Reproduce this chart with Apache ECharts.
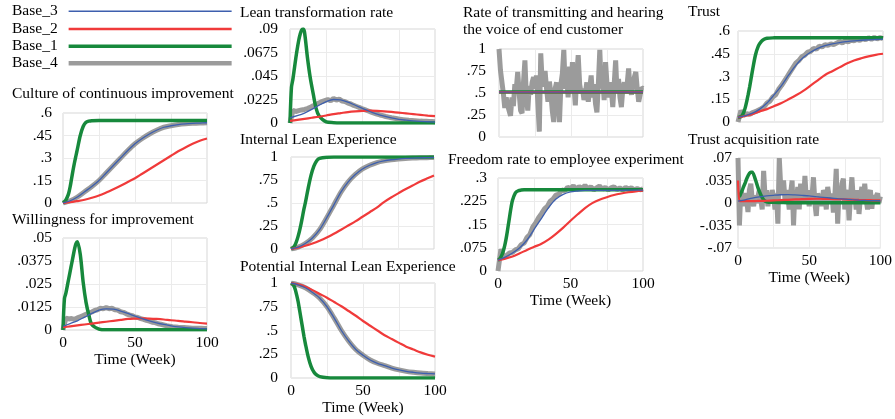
<!DOCTYPE html>
<html>
<head>
<meta charset="utf-8">
<title>Lean simulation runs</title>
<script src="https://cdn.jsdelivr.net/npm/echarts@6/dist/echarts.min.js"></script>
<style>
html, body { margin: 0; padding: 0; background: #fff; }
#main { width: 895px; height: 419px; }
</style>
</head>
<body>
<div id="main"></div>
<script>
// time grids (weeks)
var weeks5 = [0, 5, 10, 15, 20, 25, 30, 35, 40, 45, 50, 55, 60, 65, 70, 75, 80, 85, 90, 95, 100];
var weeksFine = [0, 1, 2, 3, 4, 5, 6, 7, 8, 9, 10, 12, 14, 16, 18, 20, 25, 30, 35, 40, 45, 50, 55, 60, 65, 70, 75, 80, 85, 90, 95, 100];
var weeksEnds = [0, 100];
var weeks2 = [];
for (var i = 0; i <= 100; i += 2) weeks2.push(i);
var weeks1 = [];
for (var j = 0; j <= 100; j++) weeks1.push(j);

// Culture of continuous improvement
var cultureB1 = [0, .008, .02, .04, .067, .11, .165, .22, .27, .315, .36, .45, .51, .538, .546, .549, .55, .55, .55, .55, .55, .55, .55, .55, .55, .55, .55, .55, .55, .55, .55, .55];
var cultureB2 = [0, .005, .013, .022, .035, .05, .07, .092, .115, .14, .165, .195, .225, .255, .285, .315, .345, .37, .395, .415, .43];
var cultureB3 = [0, .015, .04, .075, .11, .15, .2, .25, .3, .35, .395, .43, .46, .485, .505, .515, .523, .528, .531, .533, .535];

// Willingness for improvement
var willB1 = [0, .017, .02, .024, .028, .032, .036, .04, .044, .047, .048, .041, .026, .015, .008, .003, .0005, .0001, .0001, .0001, .0001, .0001, .0001, .0001, .0001, .0001, .0001, .0001, .0001, .0001, .0001, .0001];
var willB2 = [.0015, .002, .0025, .003, .0035, .004, .0045, .005, .0055, .006, .0062, .0063, .0062, .006, .0057, .0053, .005, .0046, .0042, .0038, .0035];
var willB3 = [.002, .0035, .005, .007, .009, .0108, .0115, .0113, .0103, .009, .0075, .0062, .005, .0039, .003, .0023, .0017, .0013, .001, .0008, .0006];
var willB4 = [0, .0065, .006, .0062, .0058, .0066, .0072, .0078, .0085, .0092, .0098, .0106, .011, .0118, .0115, .0122, .0116, .0118, .011, .0108, .0099, .0096, .0088, .0082, .0078, .0071, .0068, .0062, .0058, .0052, .0048, .0042, .004, .0034, .0031, .0027, .0023, .0021, .0018, .0017, .0015, .0014, .0013, .0012, .0011, .001, .001, .0009, .0009, .0008, .0008];

// Lean transformation rate
var ltrB1 = [0, .034, .042, .052, .062, .071, .079, .085, .089, .09, .087, .063, .043, .028, .014, .007, .001, .0003, .0001, .0001, .0001, .0001, .0001, .0001, .0001, .0001, .0001, .0001, .0001, .0001, .0001, .0001];
var ltrB2 = [.002, .003, .004, .005, .006, .0072, .0085, .0095, .0105, .0112, .0117, .0118, .0116, .0112, .0106, .0099, .0092, .0085, .0078, .0071, .0065];
var ltrB3 = [.005, .007, .0095, .013, .017, .0205, .0225, .0222, .02, .017, .014, .011, .0085, .0065, .0048, .0035, .0027, .002, .0015, .0012, .0009];
var ltrB4 = [0, .012, .011, .0118, .0125, .013, .0138, .015, .0165, .0175, .0192, .0205, .0215, .0225, .0212, .0235, .022, .0228, .021, .0205, .019, .0182, .0168, .0158, .0148, .0135, .0125, .0115, .0105, .0095, .0085, .0077, .007, .0062, .0056, .005, .0045, .004, .0035, .0032, .0029, .0026, .0024, .0022, .002, .0018, .0017, .0016, .0015, .0014, .0013];

// Internal Lean Experience
var ileB1 = [0, .01, .025, .05, .09, .14, .2, .27, .35, .43, .5, .66, .8, .9, .96, .985, .998, 1, 1, 1, 1, 1, 1, 1, 1, 1, 1, 1, 1, 1, 1, 1];
var ileB2 = [0, .015, .035, .06, .09, .125, .165, .21, .255, .3, .35, .4, .45, .51, .56, .605, .65, .69, .73, .765, .8];
var ileB3 = [0, .02, .06, .12, .21, .34, .48, .62, .73, .81, .87, .91, .94, .958, .97, .978, .984, .988, .991, .993, .995];

// Potential Internal Lean Experience
var pileB1 = [1, .99, .97, .93, .87, .8, .71, .62, .53, .44, .36, .22, .12, .06, .03, .015, .003, 0, 0, 0, 0, 0, 0, 0, 0, 0, 0, 0, 0, 0, 0, 0];
var pileB2 = [1, .985, .96, .925, .885, .845, .8, .755, .705, .655, .6, .55, .5, .45, .41, .37, .33, .3, .27, .245, .225];
var pileB3 = [1, .98, .95, .9, .84, .75, .63, .5, .39, .3, .24, .19, .155, .13, .105, .085, .07, .06, .052, .047, .043];

// Rate of transmitting and hearing the voice of end customer
var voiceFlat = [.51, .51];
var voiceB4 = [1.0, .76, .78, .5, .33, .45, .36, .3, .24, .45,
  .35, .6, .55, .74, .5, .3, .27, .62, .87, .45,
  .3, .58, .48, .62, .68, .55, .7, .72, .06, .95,
  .62, .58, .75, .55, .4, .63, .5, .3, .17, .55,
  .62, .4, .17, .6, .72, .99, .55, .68, .45, .8,
  .5, .85, .6, .36, .7, .93, .6, .5, .55, .42,
  .5, .62, .4, .55, .7, .45, .6, .38, .28, .6,
  .99, .55, .7, .42, .85, .6, .45, .62, .55, .34,
  .6, .87, .5, .66, .45, .34, .55, .62, .5, .6,
  .78, .55, .48, .6, .68, .74, .55, .4, .48, .56,
  .55];

// Freedom rate to employee experiment
var freeB1 = [.035, .038, .045, .055, .07, .09, .115, .145, .175, .205, .228, .252, .259, .261, .262, .262, .262, .262, .262, .262, .262, .262, .262, .262, .262, .262, .262, .262, .262, .262, .262, .262];
var freeB2 = [.035, .04, .047, .057, .068, .078, .088, .102, .12, .14, .162, .183, .203, .219, .23, .238, .245, .25, .254, .257, .259];
var freeB3 = [.035, .045, .058, .075, .1, .135, .17, .205, .232, .247, .255, .258, .26, .26, .26, .26, .26, .26, .261, .261, .261];
var freeB4 = [0, .07, .045, .05, .058, .06, .068, .072, .085, .09, .108, .118, .142, .155, .172, .185, .2, .208, .225, .232, .245, .248, .262, .258, .27, .266, .275, .264, .272, .266, .276, .265, .272, .262, .268, .274, .264, .27, .262, .268, .272, .263, .268, .262, .27, .264, .268, .262, .266, .262, .265];

// Trust
var trustB1 = [.03, .032, .036, .045, .065, .095, .135, .18, .23, .285, .34, .44, .5, .53, .545, .552, .555, .556, .556, .556, .556, .556, .556, .556, .556, .556, .556, .556, .556, .556, .556, .556];
var trustB2 = [.03, .04, .052, .07, .085, .105, .125, .15, .176, .205, .24, .275, .31, .335, .36, .385, .405, .42, .433, .443, .45];
var trustB3 = [.03, .042, .058, .085, .125, .18, .24, .31, .375, .425, .46, .485, .503, .515, .524, .53, .535, .539, .542, .544, .546];
var trustB4 = [0, .075, .045, .055, .05, .062, .068, .078, .088, .1, .125, .138, .165, .18, .215, .24, .27, .3, .33, .36, .39, .405, .43, .44, .46, .465, .485, .48, .5, .495, .51, .505, .515, .51, .52, .53, .522, .535, .528, .54, .535, .545, .538, .55, .542, .555, .545, .558, .548, .556, .55];

// Trust acquisition rate
var acqB1 = [.01, .01, .015, .02, .026, .031, .037, .042, .046, .048, .048, .038, .024, .013, .005, .002, .001, .0008, .0005, .0005, .0005, .0005, .0005, .0005, .0005, .0005, .0005, .0005, .0005, .0005, .0005, .0005];
var acqB2 = [.035, .003, .003, .003, .003, .003, .003, .003, .003, .003, .003, .003, .0032, .0033, .0034, .0035, .004, .0045, .005, .0055, .006, .0065, .0066, .0065, .0062, .006, .0056, .0052, .0048, .0045, .0042, .004];
var acqB3 = [.003, .005, .0075, .0095, .011, .012, .0128, .013, .0125, .0118, .011, .0098, .0088, .0078, .0068, .006, .0052, .0045, .004, .0037, .0035];
var acqB4 = [.07, -.035, .02, .01, -.005, .015, .008, -.014, .02, .03,
  .005, -.005, .012, 0, .01, .02, .005, -.01, .05, .01,
  .02, -.005, .015, .005, .02, .01, -.01, .015, -.032, .07,
  .025, .015, .035, .005, .02, .01, -.01, .015, .035, -.035,
  .02, .005, .025, -.01, .03, .01, 0, .042, .005, .015,
  -.005, .02, .01, .04, 0, -.02, .015, .005, .01, -.005,
  .02, .015, -.01, .025, .01, 0, .015, -.015, .01, .053,
  -.032, .02, .005, .03, .038, -.01, .015, .02, -.027, .01,
  .04, .005, .015, -.01, .02, -.017, .01, .025, 0, .03,
  .005, -.01, .015, .02, -.009, .012, .005, .01, .015, 0,
  .01];

var legendNames = ['Base_3', 'Base_2', 'Base_1', 'Base_4'];
var drawOrder = ['Base_4', 'Base_1', 'Base_2', 'Base_3'];
var styles = {
    Base_4: { color: '#9b9b9b', width: 5, icon: 4.5 },
    Base_1: { color: '#17893c', width: 3.5, icon: 3.5 },
    Base_2: { color: '#f03a3a', width: 2.2, icon: 2.5 },
    Base_3: { color: '#3d5fae', width: 1.3, icon: 1.5 }
};

var FONT = 'Liberation Serif';
var FS = 15.5;

// one small chart per panel
var panels = [
    { title: 'Culture of continuous improvement', titleAt: [12, 85], box: [63, 113, 144, 90], y: [0, 0.6, 0.15], gap: 11, time: false,
      lines: { Base_4: [weeks5, cultureB3], Base_1: [weeksFine, cultureB1], Base_2: [weeks5, cultureB2], Base_3: [weeks5, cultureB3] } },
    { title: 'Willingness for improvement', titleAt: [12, 211], box: [63, 238, 144, 92], y: [0, 0.05, 0.0125], gap: 11, time: true,
      lines: { Base_4: [weeks2, willB4], Base_1: [weeksFine, willB1], Base_2: [weeks5, willB2], Base_3: [weeks5, willB3] } },
    { title: 'Lean transformation rate', titleAt: [240, 4], box: [290, 29, 145, 94], y: [0, 0.09, 0.0225], gap: 12, time: false,
      lines: { Base_4: [weeks2, ltrB4], Base_1: [weeksFine, ltrB1], Base_2: [weeks5, ltrB2], Base_3: [weeks5, ltrB3] } },
    { title: 'Internal Lean Experience', titleAt: [240, 131], box: [291, 157, 143, 92], y: [0, 1, 0.25], gap: 13, time: false,
      lines: { Base_4: [weeks5, ileB3], Base_1: [weeksFine, ileB1], Base_2: [weeks5, ileB2], Base_3: [weeks5, ileB3] } },
    { title: 'Potential Internal Lean Experience', titleAt: [240, 258], box: [291, 283, 144, 95], y: [0, 1, 0.25], gap: 13, time: true,
      lines: { Base_4: [weeks5, pileB3], Base_1: [weeksFine, pileB1], Base_2: [weeks5, pileB2], Base_3: [weeks5, pileB3] } },
    { title: 'Rate of transmitting and hearing\nthe voice of end customer', titleAt: [463, 4], box: [499, 49, 144, 88], y: [0, 1, 0.25], gap: 13, time: false,
      lines: { Base_4: [weeks1, voiceB4], Base_1: [weeksEnds, voiceFlat], Base_2: [weeksEnds, voiceFlat], Base_3: [weeksEnds, voiceFlat] } },
    { title: 'Freedom rate to employee experiment', titleAt: [448, 151], box: [498, 178, 145, 93], y: [0, 0.3, 0.075], gap: 11, time: true,
      lines: { Base_4: [weeks2, freeB4], Base_1: [weeksFine, freeB1], Base_2: [weeks5, freeB2], Base_3: [weeks5, freeB3] } },
    { title: 'Trust', titleAt: [688, 3], box: [738, 31, 145, 91], y: [0, 0.6, 0.15], gap: 8, time: false,
      lines: { Base_4: [weeks2, trustB4], Base_1: [weeksFine, trustB1], Base_2: [weeks5, trustB2], Base_3: [weeks5, trustB3] } },
    { title: 'Trust acquisition rate', titleAt: [688, 131], box: [738, 158, 145, 90], y: [-0.07, 0.07, 0.035], gap: 6, time: true,
      lines: { Base_4: [weeks1, acqB4], Base_1: [weeksFine, acqB1], Base_2: [weeksFine, acqB2], Base_3: [weeks5, acqB3] } }
];

// ".45" style tick labels
function shortNum(v) {
    if (v === 0) return '0';
    return String(+v.toFixed(6)).replace(/^(-?)0\./, '$1.');
}

var textBase = { fontFamily: FONT, fontSize: FS, color: '#000', fontWeight: 'normal' };
var grids = [], xAxes = [], yAxes = [], titles = [], series = [];

panels.forEach(function (p, k) {
    grids.push({
        left: p.box[0], top: p.box[1], width: p.box[2], height: p.box[3],
        show: true, borderColor: '#d6d6d6', borderWidth: 1, backgroundColor: 'transparent'
    });
    xAxes.push({
        gridIndex: k, type: 'value', min: 0, max: 100, interval: 25,
        axisLine: { show: false }, axisTick: { show: false },
        splitLine: { show: true, lineStyle: { color: '#ebebeb', width: 1 } },
        axisLabel: {
            show: p.time, margin: 5, fontFamily: FONT, fontSize: FS, color: '#000',
            formatter: function (v) { return v % 50 === 0 ? String(v) : ''; }
        },
        name: p.time ? 'Time (Week)' : '', nameLocation: 'middle', nameGap: 21,
        nameTextStyle: textBase
    });
    yAxes.push({
        gridIndex: k, type: 'value', min: p.y[0], max: p.y[1], interval: p.y[2],
        axisLine: { show: false }, axisTick: { show: false },
        splitLine: { show: true, lineStyle: { color: '#ebebeb', width: 1 } },
        axisLabel: { margin: p.gap, fontFamily: FONT, fontSize: FS, color: '#000', formatter: shortNum }
    });
    titles.push({
        text: p.title, left: p.titleAt[0], top: p.titleAt[1], padding: 0,
        textStyle: { fontFamily: FONT, fontSize: FS, color: '#000', fontWeight: 'normal', lineHeight: 17.5 }
    });
    drawOrder.forEach(function (name) {
        var src = p.lines[name];
        var pts = src[1].map(function (v, n) { return [src[0][n], v]; });
        var noisy = src[0] === weeks1 || src[0] === weeks2;
        series.push({
            type: 'line', name: name, xAxisIndex: k, yAxisIndex: k,
            data: pts, showSymbol: false, symbol: 'none',
            smooth: noisy ? false : 0.3,
            lineStyle: { color: styles[name].color, width: styles[name].width },
            itemStyle: { color: styles[name].color },
            emphasis: { disabled: true }
        });
    });
});

// legend: text on the left, sample line on the right
var legendTops = [3.3, 21, 38.3, 55.3];
var legends = legendNames.map(function (name, n) {
    return {
        left: 12, top: legendTops[n], padding: 0, orient: 'vertical', align: 'right',
        icon: 'rect', itemWidth: 163, itemHeight: styles[name].icon,
        data: [name], selectedMode: false,
        textStyle: { fontFamily: FONT, fontSize: FS, color: '#000', padding: [0, 6, 0, 0] }
    };
});

var myChart = echarts.init(document.getElementById('main'));
myChart.setOption({
    animation: false,
    title: titles,
    legend: legends,
    grid: grids,
    xAxis: xAxes,
    yAxis: yAxes,
    series: series
});
</script>
</body>
</html>
